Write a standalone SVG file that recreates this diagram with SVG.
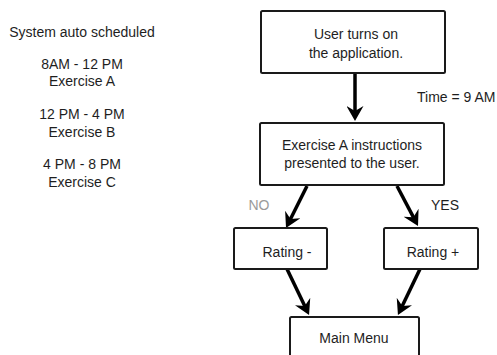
<svg xmlns="http://www.w3.org/2000/svg" width="497" height="355" viewBox="0 0 497 355">
  <style>
    text { font-family: "Liberation Sans", Arial, sans-serif; font-size: 14px; fill: #1e1e1e; text-anchor: middle; }
    .box { fill: #ffffff; stroke: #1a1a1a; stroke-width: 2; }
    .edge { stroke: #000000; stroke-width: 3.5; fill: none; marker-end: url(#head); }
    .muted { fill: #9a9a9a; }
  </style>
  <defs>
    <marker id="head" markerUnits="userSpaceOnUse" viewBox="0 0 16 17" markerWidth="16" markerHeight="17" refX="7" refY="8.5" orient="auto">
      <path d="M15,8.5 L0,0 L5,8.5 L0,17 Z" fill="#000000"/>
    </marker>
  </defs>
  <rect width="497" height="355" fill="#ffffff"/>

  <!-- schedule notes -->
  <g id="schedule">
    <text x="82" y="37">System auto scheduled</text>
    <text x="82" y="69">8AM - 12 PM</text>
    <text x="82" y="86">Exercise A</text>
    <text x="82" y="119">12 PM - 4 PM</text>
    <text x="82" y="137">Exercise B</text>
    <text x="82" y="169">4 PM - 8 PM</text>
    <text x="82" y="187">Exercise C</text>
  </g>

  <!-- connectors -->
  <g id="connectors">
    <line class="edge" x1="355" y1="73" x2="355" y2="113"/>
    <line class="edge" x1="307" y1="186" x2="289.6" y2="220.8"/>
    <line class="edge" x1="397" y1="186" x2="414.3" y2="218.9"/>
    <line class="edge" x1="287" y1="269" x2="305.6" y2="307.8"/>
    <line class="edge" x1="420" y1="269" x2="401.4" y2="307.8"/>
    <text x="417" y="102" style="text-anchor:start">Time = 9 AM</text>
    <text class="muted" x="259" y="210">NO</text>
    <text x="445" y="210">YES</text>
  </g>

  <g id="start">
    <rect class="box" x="261" y="11" width="184" height="62" rx="1.5"/>
    <text x="356" y="39">User turns on</text>
    <text x="356" y="58">the application.</text>
  </g>

  <g id="instructions">
    <rect class="box" x="260" y="123" width="184" height="62" rx="1.5"/>
    <text x="352" y="150">Exercise A instructions</text>
    <text x="352" y="168">presented to the user.</text>
  </g>

  <g id="rating-minus">
    <rect class="box" x="234" y="228" width="93" height="41" rx="1.5"/>
    <text x="287" y="257">Rating -</text>
  </g>

  <g id="rating-plus">
    <rect class="box" x="384" y="228" width="94" height="41" rx="1.5"/>
    <text x="433" y="257">Rating +</text>
  </g>

  <g id="main-menu">
    <rect class="box" x="290" y="317" width="129" height="50" rx="1.5"/>
    <text x="354" y="343">Main Menu</text>
  </g>
</svg>
